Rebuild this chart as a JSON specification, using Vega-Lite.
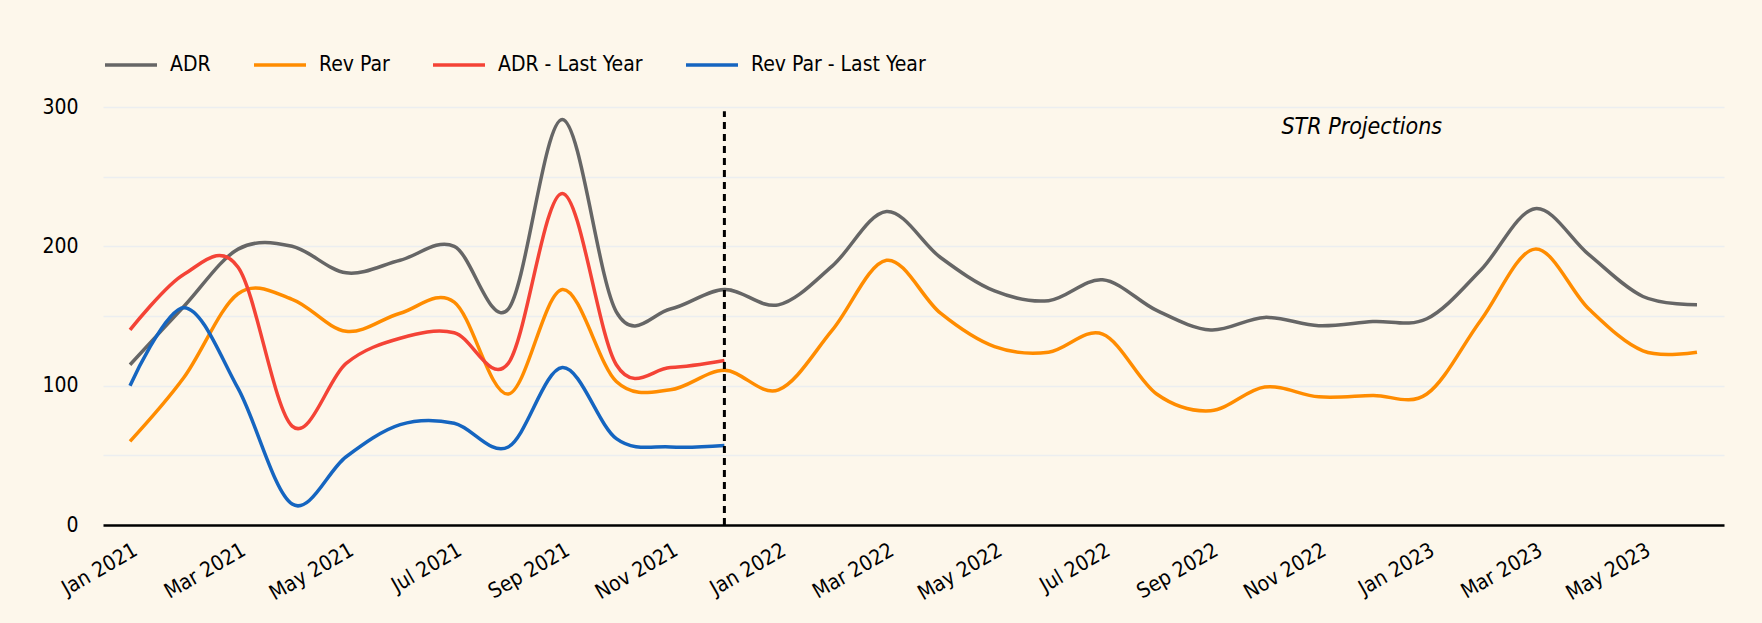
{
  "$schema": "https://vega.github.io/schema/vega-lite/v6.json",
  "width": 1621,
  "height": 418,
  "autosize": {"type": "none"},
  "padding": {"left": 103, "top": 107, "right": 38, "bottom": 98},
  "background": "#fdf7eb",
  "config": {
    "view": {"stroke": null},
    "font": "DejaVu Sans Condensed",
    "axis": {"labelFont": "DejaVu Sans Condensed", "labelColor": "#000000"},
    "legend": {"labelFont": "DejaVu Sans Condensed"}
  },
  "datasets": {
    "series": [
      {"month": "Jan 2021", "series": "ADR", "value": 115},
      {"month": "Feb 2021", "series": "ADR", "value": 157},
      {"month": "Mar 2021", "series": "ADR", "value": 198},
      {"month": "Apr 2021", "series": "ADR", "value": 200},
      {"month": "May 2021", "series": "ADR", "value": 181},
      {"month": "Jun 2021", "series": "ADR", "value": 190},
      {"month": "Jul 2021", "series": "ADR", "value": 200},
      {"month": "Aug 2021", "series": "ADR", "value": 155},
      {"month": "Sep 2021", "series": "ADR", "value": 291},
      {"month": "Oct 2021", "series": "ADR", "value": 153},
      {"month": "Nov 2021", "series": "ADR", "value": 155},
      {"month": "Dec 2021", "series": "ADR", "value": 169},
      {"month": "Jan 2022", "series": "ADR", "value": 158},
      {"month": "Feb 2022", "series": "ADR", "value": 186},
      {"month": "Mar 2022", "series": "ADR", "value": 225},
      {"month": "Apr 2022", "series": "ADR", "value": 192},
      {"month": "May 2022", "series": "ADR", "value": 168},
      {"month": "Jun 2022", "series": "ADR", "value": 161},
      {"month": "Jul 2022", "series": "ADR", "value": 176},
      {"month": "Aug 2022", "series": "ADR", "value": 154},
      {"month": "Sep 2022", "series": "ADR", "value": 140},
      {"month": "Oct 2022", "series": "ADR", "value": 149},
      {"month": "Nov 2022", "series": "ADR", "value": 143},
      {"month": "Dec 2022", "series": "ADR", "value": 146},
      {"month": "Jan 2023", "series": "ADR", "value": 148},
      {"month": "Feb 2023", "series": "ADR", "value": 183},
      {"month": "Mar 2023", "series": "ADR", "value": 227},
      {"month": "Apr 2023", "series": "ADR", "value": 194},
      {"month": "May 2023", "series": "ADR", "value": 164},
      {"month": "Jun 2023", "series": "ADR", "value": 158},
      {"month": "Jan 2021", "series": "Rev Par", "value": 60},
      {"month": "Feb 2021", "series": "Rev Par", "value": 106},
      {"month": "Mar 2021", "series": "Rev Par", "value": 166},
      {"month": "Apr 2021", "series": "Rev Par", "value": 162},
      {"month": "May 2021", "series": "Rev Par", "value": 139},
      {"month": "Jun 2021", "series": "Rev Par", "value": 152},
      {"month": "Jul 2021", "series": "Rev Par", "value": 160},
      {"month": "Aug 2021", "series": "Rev Par", "value": 94},
      {"month": "Sep 2021", "series": "Rev Par", "value": 169},
      {"month": "Oct 2021", "series": "Rev Par", "value": 103},
      {"month": "Nov 2021", "series": "Rev Par", "value": 97},
      {"month": "Dec 2021", "series": "Rev Par", "value": 111},
      {"month": "Jan 2022", "series": "Rev Par", "value": 97},
      {"month": "Feb 2022", "series": "Rev Par", "value": 140},
      {"month": "Mar 2022", "series": "Rev Par", "value": 190},
      {"month": "Apr 2022", "series": "Rev Par", "value": 152},
      {"month": "May 2022", "series": "Rev Par", "value": 128},
      {"month": "Jun 2022", "series": "Rev Par", "value": 124},
      {"month": "Jul 2022", "series": "Rev Par", "value": 137},
      {"month": "Aug 2022", "series": "Rev Par", "value": 94},
      {"month": "Sep 2022", "series": "Rev Par", "value": 82},
      {"month": "Oct 2022", "series": "Rev Par", "value": 99},
      {"month": "Nov 2022", "series": "Rev Par", "value": 92},
      {"month": "Dec 2022", "series": "Rev Par", "value": 93},
      {"month": "Jan 2023", "series": "Rev Par", "value": 94},
      {"month": "Feb 2023", "series": "Rev Par", "value": 147},
      {"month": "Mar 2023", "series": "Rev Par", "value": 198},
      {"month": "Apr 2023", "series": "Rev Par", "value": 155},
      {"month": "May 2023", "series": "Rev Par", "value": 125},
      {"month": "Jun 2023", "series": "Rev Par", "value": 124},
      {"month": "Jan 2021", "series": "ADR - Last Year", "value": 140},
      {"month": "Feb 2021", "series": "ADR - Last Year", "value": 180},
      {"month": "Mar 2021", "series": "ADR - Last Year", "value": 185},
      {"month": "Apr 2021", "series": "ADR - Last Year", "value": 71},
      {"month": "May 2021", "series": "ADR - Last Year", "value": 116},
      {"month": "Jun 2021", "series": "ADR - Last Year", "value": 134},
      {"month": "Jul 2021", "series": "ADR - Last Year", "value": 138},
      {"month": "Aug 2021", "series": "ADR - Last Year", "value": 116},
      {"month": "Sep 2021", "series": "ADR - Last Year", "value": 238},
      {"month": "Oct 2021", "series": "ADR - Last Year", "value": 115},
      {"month": "Nov 2021", "series": "ADR - Last Year", "value": 113},
      {"month": "Dec 2021", "series": "ADR - Last Year", "value": 118},
      {"month": "Jan 2021", "series": "Rev Par - Last Year", "value": 100},
      {"month": "Feb 2021", "series": "Rev Par - Last Year", "value": 156},
      {"month": "Mar 2021", "series": "Rev Par - Last Year", "value": 98},
      {"month": "Apr 2021", "series": "Rev Par - Last Year", "value": 15},
      {"month": "May 2021", "series": "Rev Par - Last Year", "value": 49},
      {"month": "Jun 2021", "series": "Rev Par - Last Year", "value": 72},
      {"month": "Jul 2021", "series": "Rev Par - Last Year", "value": 73},
      {"month": "Aug 2021", "series": "Rev Par - Last Year", "value": 56},
      {"month": "Sep 2021", "series": "Rev Par - Last Year", "value": 113},
      {"month": "Oct 2021", "series": "Rev Par - Last Year", "value": 62},
      {"month": "Nov 2021", "series": "Rev Par - Last Year", "value": 56},
      {"month": "Dec 2021", "series": "Rev Par - Last Year", "value": 57}
    ],
    "marker": [
      {"month": "Dec 2021", "y0": 0, "y1": 297}
    ],
    "note": [
      {"month": "Dec 2022", "value": 286, "label": "STR Projections"}
    ]
  },
  "layer": [
    {
      "data": {"name": "series"},
      "mark": {"type": "line", "interpolate": "cardinal", "strokeWidth": 3.5},
      "encoding": {
        "x": {
          "field": "month",
          "type": "ordinal",
          "scale": {
            "type": "point",
            "padding": 0.5,
            "domain": ["Jan 2021", "Feb 2021", "Mar 2021", "Apr 2021", "May 2021", "Jun 2021", "Jul 2021", "Aug 2021", "Sep 2021", "Oct 2021", "Nov 2021", "Dec 2021", "Jan 2022", "Feb 2022", "Mar 2022", "Apr 2022", "May 2022", "Jun 2022", "Jul 2022", "Aug 2022", "Sep 2022", "Oct 2022", "Nov 2022", "Dec 2022", "Jan 2023", "Feb 2023", "Mar 2023", "Apr 2023", "May 2023", "Jun 2023"]
          },
          "axis": {
            "title": null,
            "values": ["Jan 2021", "Mar 2021", "May 2021", "Jul 2021", "Sep 2021", "Nov 2021", "Jan 2022", "Mar 2022", "May 2022", "Jul 2022", "Sep 2022", "Nov 2022", "Jan 2023", "Mar 2023", "May 2023"],
            "labelAngle": -30,
            "labelFontSize": 21,
            "labelPadding": 14,
            "ticks": false,
            "grid": false,
            "domain": true,
            "domainColor": "#000000",
            "domainWidth": 2.5
          }
        },
        "y": {
          "field": "value",
          "type": "quantitative",
          "scale": {"domain": [0, 300], "nice": false, "zero": true},
          "axis": {
            "title": null,
            "values": [0, 50, 100, 150, 200, 250, 300],
            "labelExpr": "datum.value % 100 === 0 ? datum.label : ''",
            "labelFontSize": 21,
            "labelPadding": 25,
            "ticks": false,
            "domain": false,
            "grid": true,
            "gridColor": "#eceef0",
            "gridWidth": 1.5
          }
        },
        "color": {
          "field": "series",
          "type": "nominal",
          "scale": {
            "domain": ["ADR", "Rev Par", "ADR - Last Year", "Rev Par - Last Year"],
            "range": ["#666666", "#ff8c00", "#f44336", "#1565c0"]
          },
          "legend": {
            "title": null,
            "orient": "top",
            "direction": "horizontal",
            "symbolType": "stroke",
            "symbolSize": 2704,
            "symbolStrokeWidth": 3.5,
            "labelFontSize": 21,
            "labelColor": "#000000",
            "labelOffset": 11,
            "columnPadding": 36,
            "offset": 32,
            "padding": 0,
            "labelLimit": 400
          }
        }
      }
    },
    {
      "data": {"name": "marker"},
      "mark": {"type": "rule", "color": "#000000", "strokeWidth": 3, "strokeDash": [7, 5]},
      "encoding": {
        "x": {"field": "month", "type": "ordinal"},
        "y": {"field": "y0", "type": "quantitative"},
        "y2": {"field": "y1"}
      }
    },
    {
      "data": {"name": "note"},
      "mark": {"type": "text", "fontSize": 23, "fontStyle": "italic", "font": "DejaVu Sans Condensed", "color": "#000000", "align": "center", "baseline": "middle", "dx": -11},
      "encoding": {
        "x": {"field": "month", "type": "ordinal"},
        "y": {"field": "value", "type": "quantitative"},
        "text": {"field": "label"}
      }
    }
  ]
}
